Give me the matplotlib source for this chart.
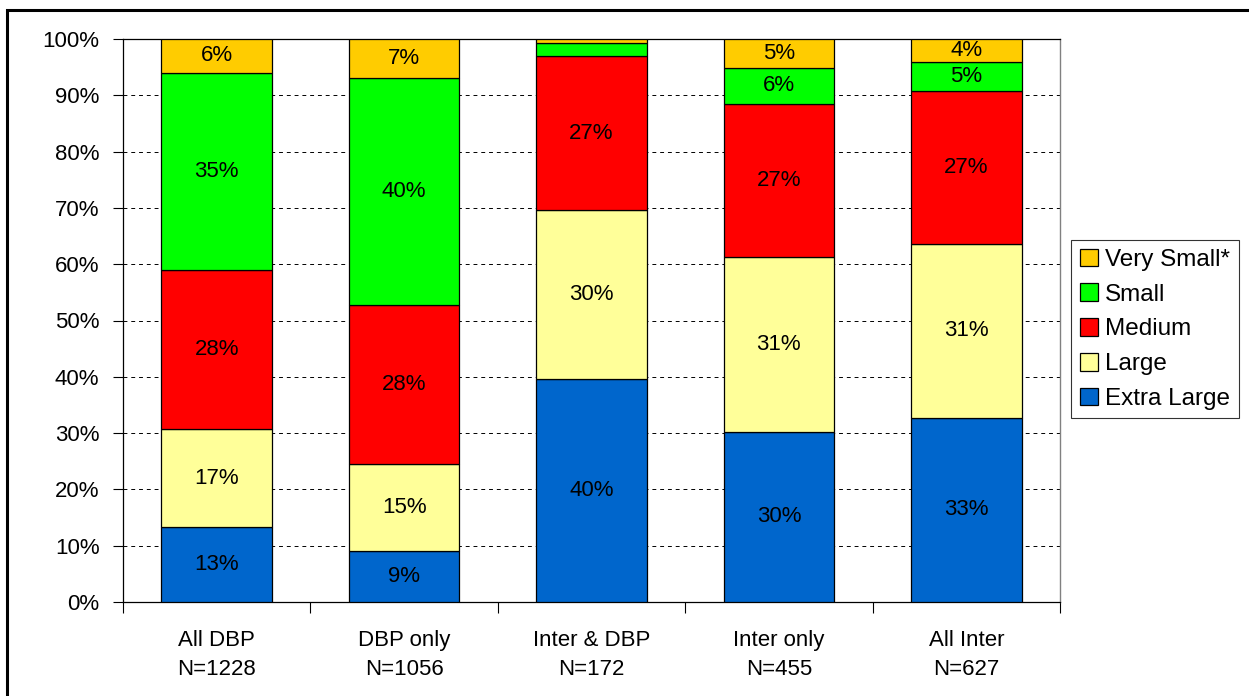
import matplotlib
matplotlib.use("Agg")
import matplotlib.pyplot as plt
from matplotlib.patches import Rectangle, Patch
import numpy as np

plt.rcParams['font.family'] = ['Liberation Sans', 'DejaVu Sans']

categories = ["All DBP\nN=1228", "DBP only\nN=1056", "Inter & DBP\nN=172", "Inter only\nN=455", "All Inter\nN=627"]
series_names = ["Extra Large", "Large", "Medium", "Small", "Very Small*"]
extra_large = [13.3, 9.1, 39.6, 30.2, 32.7]
large = [17.4, 15.4, 30.0, 31.1, 30.9]
medium = [28.3, 28.2, 27.4, 27.2, 27.2]
small = [35.0, 40.3, 2.3, 6.4, 5.1]
very_small = [6.0, 7.0, 0.7, 5.1, 4.1]
colors = ["#0066CC", "#FFFF99", "#FF0000", "#00FF00", "#FFCC00"]
yticks = [0, 10, 20, 30, 40, 50, 60, 70, 80, 90, 100]

data = [extra_large, large, medium, small, very_small]

fig = plt.figure(figsize=(12.49, 6.96), dpi=100)
ax = fig.add_axes([123/1249, 1-602/696, (1060-123)/1249, (602-39)/696])

x = np.arange(len(categories))
bottom = np.zeros(len(categories))
handles = []
for name, vals, col in zip(series_names, data, colors):
    vals = np.array(vals)
    ax.bar(x, vals, width=0.59, bottom=bottom, color=col, edgecolor='black',
           linewidth=0.9, zorder=3)
    for xi, b, v in zip(x, bottom, vals):
        if v >= 3:
            ax.text(xi, b + v/2, f"{round(v)}%", ha='center', va='center',
                    fontsize=16, zorder=4)
    bottom += vals
    handles.append(Patch(facecolor=col, edgecolor='black', linewidth=0.9, label=name))

ax.set_xlim(-0.5, len(categories) - 0.5)
ax.set_ylim(0, 100)
ax.set_yticks(yticks)
ax.set_yticklabels([f"{t}%" for t in yticks], fontsize=16)
ax.set_xticks(x)
ax.set_xticklabels(categories, fontsize=16, linespacing=1.5)
ax.set_xticks(np.arange(-0.5, len(categories)), minor=True)
ax.tick_params(axis='x', which='major', length=0, pad=20)
ax.tick_params(axis='x', which='minor', length=8, direction='out', color='black', width=0.8)
ax.tick_params(axis='y', length=7, direction='out', width=0.8, pad=10)

for t in yticks[1:-1]:
    ax.axhline(t, color='black', linestyle=(0, (4, 4)), linewidth=0.7, zorder=1)

for s in ['left', 'bottom', 'top']:
    ax.spines[s].set_color('black')
    ax.spines[s].set_linewidth(0.9)
ax.spines['right'].set_color('#808080')
ax.spines['right'].set_linewidth(1.0)

leg = fig.legend(handles[::-1], [h.get_label() for h in handles[::-1]],
                 loc='upper left', bbox_to_anchor=(1071/1249, 1-240/696),
                 fontsize=17.5, frameon=True, fancybox=False, edgecolor='black',
                 handlelength=0.75, handleheight=0.75, handletextpad=0.3,
                 labelspacing=0.51, borderpad=0.35, borderaxespad=0)
leg.get_frame().set_linewidth(0.8)

fig.patches.append(Rectangle((7/1249, -0.1), 1.2, 1 - 10/696 + 0.1,
                             transform=fig.transFigure, fill=False,
                             edgecolor='black', linewidth=2.2, clip_on=False))

fig.savefig("out.png", dpi=100)
